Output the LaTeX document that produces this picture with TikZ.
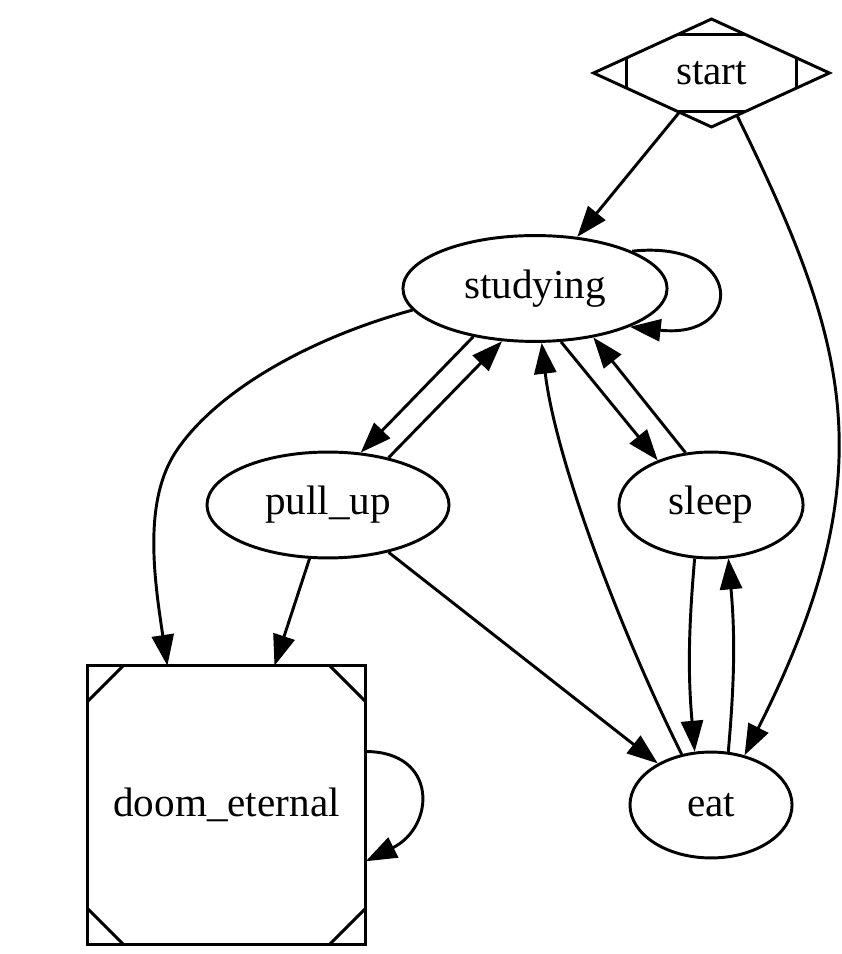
\documentclass[tikz,border=0pt]{standalone}
\usepackage{fontspec}
\setmainfont{Liberation Serif}
\usetikzlibrary{calc, shapes.geometric, arrows.meta}

\begin{document}
\begin{tikzpicture}[
    x=0.34pt, y=-0.34pt,
    every node/.style={font=\fontsize{14pt}{16pt}\selectfont, text=black},
    state/.style={ellipse, draw, line width=1pt, inner sep=0pt, minimum height=36pt},
    entry/.style={diamond, draw, line width=1pt, inner sep=0pt, aspect=2.18, minimum width=80.2pt, minimum height=36.7pt, outer sep=0pt},
    trap/.style={rectangle, draw, line width=1pt, minimum size=94.7pt, outer sep=0pt},
    notch/.style={line width=1pt},
    link/.style={-{Triangle[length=10.5pt, width=7.5pt]}, line width=1pt}
  ]
    \useasboundingbox (0,0) rectangle (841,954);

    \node[entry] (start) at (711.5, 73) {start};
    \node[state, minimum width=89.8pt] (studying) at (535, 288.5) {studying};
    \node[state, minimum width=82.3pt] (pullup) at (328, 505) {pull\_up};
    \node[state, minimum width=62.6pt] (sleep) at (711, 505) {sleep};
    \node[state, minimum width=55.1pt] (eat) at (711, 805) {eat};
    \node[trap] (doom) at (226.5, 805) {doom\_eternal};
    \coordinate (via) at (177, 450);

    % Mdiamond and Msquare marks
    \draw[notch] ($(start.north)!0.28!(start.west)$) -- ($(start.north)!0.28!(start.east)$);
    \draw[notch] ($(start.south)!0.28!(start.west)$) -- ($(start.south)!0.28!(start.east)$);
    \draw[notch] ($(start.west)!0.28!(start.north)$) -- ($(start.west)!0.28!(start.south)$);
    \draw[notch] ($(start.east)!0.28!(start.north)$) -- ($(start.east)!0.28!(start.south)$);
    \draw[notch] ($(doom.north west)+(0,36)$) -- ($(doom.north west)+(36,0)$);
    \draw[notch] ($(doom.north east)+(-36,0)$) -- ($(doom.north east)+(0,36)$);
    \draw[notch] ($(doom.south west)+(0,-36)$) -- ($(doom.south west)+(36,0)$);
    \draw[notch] ($(doom.south east)+(-36,0)$) -- ($(doom.south east)+(0,-36)$);

    % Transitions
    \draw[link] (start) -- (studying);
    \draw[link] (start.301) .. controls +(110,225) and +(144,-285) .. (eat.56);
    \draw[link] (studying.21) .. controls +(112,-12) and +(116,13) .. (studying.-22);
    \draw[link] (studying.190) .. controls +(-106,29) and +(39.5,-58) .. (via)
                               .. controls +(-34,49.5) and +(-13.5,-89) .. (doom.113);
    \draw[link] (studying.218) -- (pullup.58);
    \draw[link] (pullup.38) -- (studying.238);
    \draw[link] (studying.296) -- (sleep.140);
    \draw[link] (sleep.116) -- (studying.320);
    \draw[link] (eat.120) .. controls +(-58,-116) and +(14,119) .. (studying.277);
    \draw[link] (pullup.251) -- (doom.71);
    \draw[link] (pullup.-38) -- (eat.142);
    \draw[link] (sleep.253) to[bend right=5] (eat.107);
    \draw[link] (eat.72) to[bend right=5] (sleep.288);
    \draw[link] (doom.21) .. controls +(72,0) and +(70,-35) .. (doom.-22);
\end{tikzpicture}
\end{document}
